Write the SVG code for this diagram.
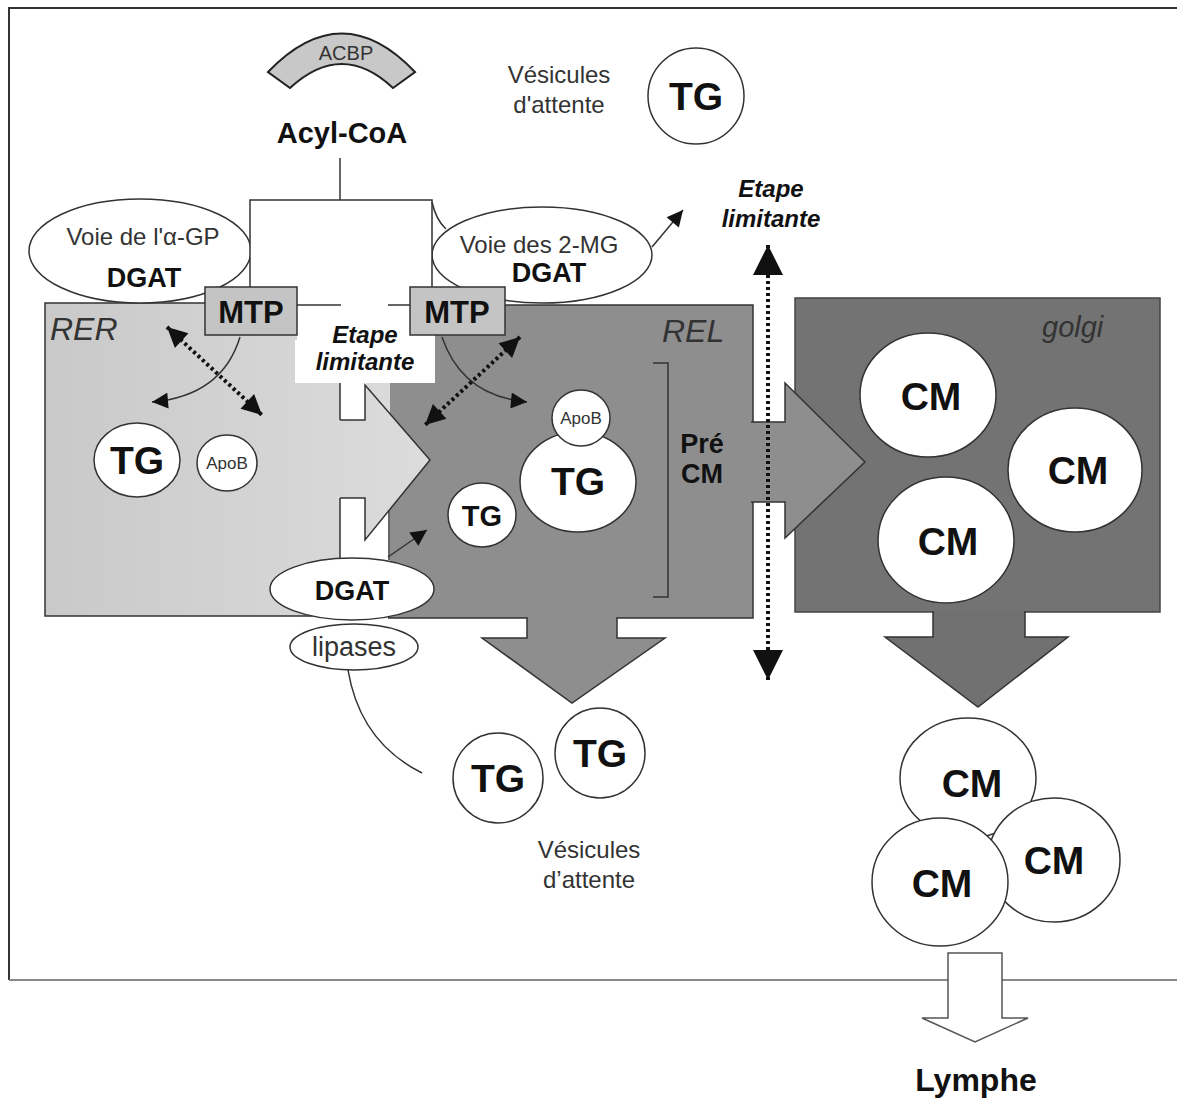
<svg xmlns="http://www.w3.org/2000/svg" width="1177" height="1102" viewBox="0 0 1177 1102">
<style>
text{font-family:"Liberation Sans",Arial,sans-serif;fill:#111;text-anchor:middle}
.b{font-weight:bold}
.it{font-style:italic;fill:#333;text-anchor:start}
.bi{font-weight:bold;font-style:italic}
.n{fill:#333}
.w{fill:#fff;stroke:#333;stroke-width:1.5}
.ln{fill:none;stroke:#333;stroke-width:1.5}
.dot{fill:none;stroke:#111;stroke-width:4;stroke-dasharray:3 3}
</style>
<defs>
<linearGradient id="rerg" gradientUnits="userSpaceOnUse" x1="45" y1="0" x2="430" y2="0">
<stop offset="0" stop-color="#c9c9c9"/><stop offset="1" stop-color="#dcdcdc"/>
</linearGradient>
<marker id="ah" viewBox="0 0 10 10" refX="10" refY="5" markerWidth="24" markerHeight="20" markerUnits="userSpaceOnUse" orient="auto-start-reverse"><path d="M0,0 L10,5 L0,10 z" fill="#111"/></marker>
<marker id="ahs" viewBox="0 0 10 10" refX="10" refY="5" markerWidth="18" markerHeight="16" markerUnits="userSpaceOnUse" orient="auto"><path d="M0,0 L10,5 L0,10 z" fill="#111"/></marker>
<marker id="ahL" viewBox="0 0 10 10" refX="10" refY="5" markerWidth="30" markerHeight="30" markerUnits="userSpaceOnUse" orient="auto-start-reverse"><path d="M0,0 L10,5 L0,10 z" fill="#111"/></marker>
</defs>

<g id="frame">
<path d="M1177,8 H9 V980" fill="none" stroke="#333" stroke-width="2"/>
<line x1="9" y1="980" x2="1177" y2="980" stroke="#888" stroke-width="2"/>
</g>

<g id="REL">
<rect x="388" y="305" width="365" height="313" fill="#8e8e8e"/>
<path d="M388,305 H753 V618 H388" class="ln"/>
<text class="it" x="662" y="342" font-size="32">REL</text>
</g>

<g id="RER">
<rect x="45" y="303" width="345" height="313" fill="url(#rerg)"/>
<path d="M390,303 H45 V616 H390" class="ln"/>
<text class="it" x="50" y="340" font-size="32">RER</text>
</g>

<g id="golgi">
<rect x="795" y="298" width="365" height="314" fill="#737373" stroke="#444" stroke-width="1.5"/>
<text class="it" x="1042" y="337" font-size="29">golgi</text>
</g>

<g id="passage">
<rect x="297" y="303" width="138" height="80" fill="#fff"/>
<rect x="340" y="383" width="26" height="40" fill="#fff"/>
<rect x="340" y="496" width="50" height="64" fill="#fff"/>
<path d="M340,383 V420" class="ln"/>
<path d="M340,498 V560" class="ln"/>
<path d="M389,505 V560" class="ln"/>
</g>

<g id="arrow-rer">
<path d="M300,420 H365 V385 L430,460 L365,540 V498 H300 Z" fill="url(#rerg)"/>
<path d="M340,420 H365 V385 L430,460 L365,540 V498 H340" class="ln"/>
</g>

<g id="arrow-rel-golgi">
<path d="M751,422 H785 V383 L865,462 L785,538 V502 H751" fill="#8e8e8e" stroke="#333" stroke-width="1.5"/>
</g>

<g id="arrow-rel-down">
<path d="M527,617 V638 H482 L572,703 L665,638 H617 V617" fill="#8e8e8e" stroke="#333" stroke-width="1.5"/>
</g>

<g id="arrow-golgi-down">
<path d="M933,611 V637 H885 L978,707 L1068,637 H1025 V611" fill="#717171" stroke="#333" stroke-width="1.5"/>
</g>

<g id="voie-agp">
<ellipse cx="140" cy="251" rx="111" ry="52" class="w"/>
<text x="143" y="245" font-size="24" class="n">Voie de l'α-GP</text>
<text x="144" y="287" font-size="27" class="b">DGAT</text>
</g>

<g id="voie-2mg">
<ellipse cx="542" cy="255" rx="110" ry="48" class="w"/>
<text x="539" y="253" font-size="24" class="n">Voie des 2-MG</text>
<text x="549" y="282" font-size="27" class="b">DGAT</text>
</g>

<g id="acyl-box">
<path d="M250,305 V200 H432 V305" fill="#fff" stroke="#333" stroke-width="1.5"/>
<path d="M432,202 Q436,220 446,229" class="ln"/>
<path d="M297,305 H341 M388,305 H410" class="ln"/>
</g>

<g id="etape-centre">
<rect x="295" y="340" width="140" height="43" fill="#fff"/>
<text x="365" y="343" font-size="24" class="bi">Etape</text>
<text x="365" y="370" font-size="24" class="bi">limitante</text>
</g>

<g id="mtp-left">
<rect x="205" y="287" width="92" height="48" fill="#c4c4c4" stroke="#333" stroke-width="1.5"/>
<text x="251" y="323" font-size="31" class="b">MTP</text>
</g>
<g id="mtp-right">
<rect x="410" y="287" width="95" height="48" fill="#c4c4c4" stroke="#333" stroke-width="1.5"/>
<text x="457" y="323" font-size="31" class="b">MTP</text>
</g>

<g id="acbp">
<path d="M268,72 Q342,-5 415,72 L393,88 Q342,40 290,88 Z" fill="#c8c8c8" stroke="#222" stroke-width="2"/>
<text x="346" y="60" font-size="20" class="n">ACBP</text>
</g>

<g id="acyl-coa">
<text x="342" y="143" font-size="29" class="b">Acyl-CoA</text>
</g>

<g id="vesicules-top">
<text x="559" y="83" font-size="24" class="n">Vésicules</text>
<text x="559" y="113" font-size="24" class="n">d'attente</text>
</g>
<g id="tg-top">
<circle cx="696" cy="96" r="48" class="w"/>
<text x="696" y="110" font-size="39" class="b">TG</text>
</g>

<g id="etape-top">
<text x="771" y="197" font-size="24" class="bi">Etape</text>
<text x="771" y="227" font-size="24" class="bi">limitante</text>
</g>

<g id="tg-rer">
<ellipse cx="137" cy="460" rx="43" ry="37" class="w"/>
<text x="137" y="474" font-size="39" class="b">TG</text>
</g>
<g id="apob-rer">
<ellipse cx="227" cy="463" rx="30" ry="28" class="w"/>
<text x="227" y="469" font-size="17" class="n">ApoB</text>
</g>

<g id="tg-rel-big">
<ellipse cx="578" cy="482" rx="58" ry="50" class="w"/>
<text x="578" y="495" font-size="39" class="b">TG</text>
</g>
<g id="apob-rel">
<ellipse cx="581" cy="418" rx="29" ry="28" class="w"/>
<text x="581" y="424" font-size="17" class="n">ApoB</text>
</g>
<g id="tg-rel-small">
<ellipse cx="482" cy="515" rx="34" ry="32" class="w"/>
<text x="482" y="526" font-size="29" class="b">TG</text>
</g>

<g id="pre-cm">
<path d="M653,363 H668 V597 H653" class="ln"/>
<text x="702" y="453" font-size="27" class="b">Pré</text>
<text x="702" y="483" font-size="27" class="b">CM</text>
</g>

<g id="dgat-bottom">
<ellipse cx="352" cy="589" rx="82" ry="31" class="w"/>
<text x="352" y="600" font-size="27" class="b">DGAT</text>
</g>
<g id="lipases">
<ellipse cx="354" cy="647" rx="64" ry="23" class="w"/>
<text x="354" y="656" font-size="27" class="n">lipases</text>
</g>

<g id="tg-bottom-1">
<circle cx="498" cy="778" r="45" class="w"/>
<text x="498" y="792" font-size="39" class="b">TG</text>
</g>
<g id="tg-bottom-2">
<circle cx="600" cy="753" r="45" class="w"/>
<text x="600" y="767" font-size="39" class="b">TG</text>
</g>
<g id="vesicules-bottom">
<text x="589" y="858" font-size="24" class="n">Vésicules</text>
<text x="589" y="888" font-size="24" class="n">d’attente</text>
</g>

<g id="cm-golgi-1">
<ellipse cx="928" cy="395" rx="68" ry="62" class="w"/>
<text x="931" y="410" font-size="39" class="b">CM</text>
</g>
<g id="cm-golgi-2">
<ellipse cx="1075" cy="470" rx="67" ry="62" class="w"/>
<text x="1078" y="484" font-size="39" class="b">CM</text>
</g>
<g id="cm-golgi-3">
<ellipse cx="946" cy="540" rx="68" ry="63" class="w"/>
<text x="948" y="555" font-size="39" class="b">CM</text>
</g>

<g id="cm-out-1">
<ellipse cx="968" cy="778" rx="68" ry="60" class="w"/>
<text x="972" y="797" font-size="39" class="b">CM</text>
</g>
<g id="cm-out-2">
<ellipse cx="1054" cy="860" rx="66" ry="62" class="w"/>
<text x="1054" y="874" font-size="39" class="b">CM</text>
</g>
<g id="cm-out-3">
<ellipse cx="940" cy="882" rx="68" ry="64" class="w"/>
<text x="942" y="897" font-size="39" class="b">CM</text>
</g>

<g id="lymphe">
<path d="M948,953 H1002 V1018 H1028 L975,1042 L922,1018 H948 Z" fill="#fff" stroke="#555" stroke-width="1.5"/>
<text x="976" y="1091" font-size="32" class="b">Lymphe</text>
</g>

<g id="connectors">
<line x1="340" y1="158" x2="340" y2="200" class="ln"/>
<path d="M240,337 Q222,396 152,402" class="ln" marker-end="url(#ahs)"/>
<line x1="167" y1="327" x2="262" y2="415" class="dot" marker-start="url(#ah)" marker-end="url(#ah)"/>
<path d="M442,337 Q462,396 527,402" class="ln" marker-end="url(#ahs)"/>
<line x1="520" y1="337" x2="425" y2="425" class="dot" marker-start="url(#ah)" marker-end="url(#ah)"/>
<line x1="388" y1="557" x2="427" y2="530" class="ln" marker-end="url(#ahs)"/>
<line x1="652" y1="247" x2="683" y2="210" class="ln" marker-end="url(#ahs)"/>
<line x1="768" y1="245" x2="768" y2="680" class="dot" marker-start="url(#ahL)" marker-end="url(#ahL)"/>
<path d="M348,670 Q360,742 422,773" class="ln"/>
</g>
</svg>
